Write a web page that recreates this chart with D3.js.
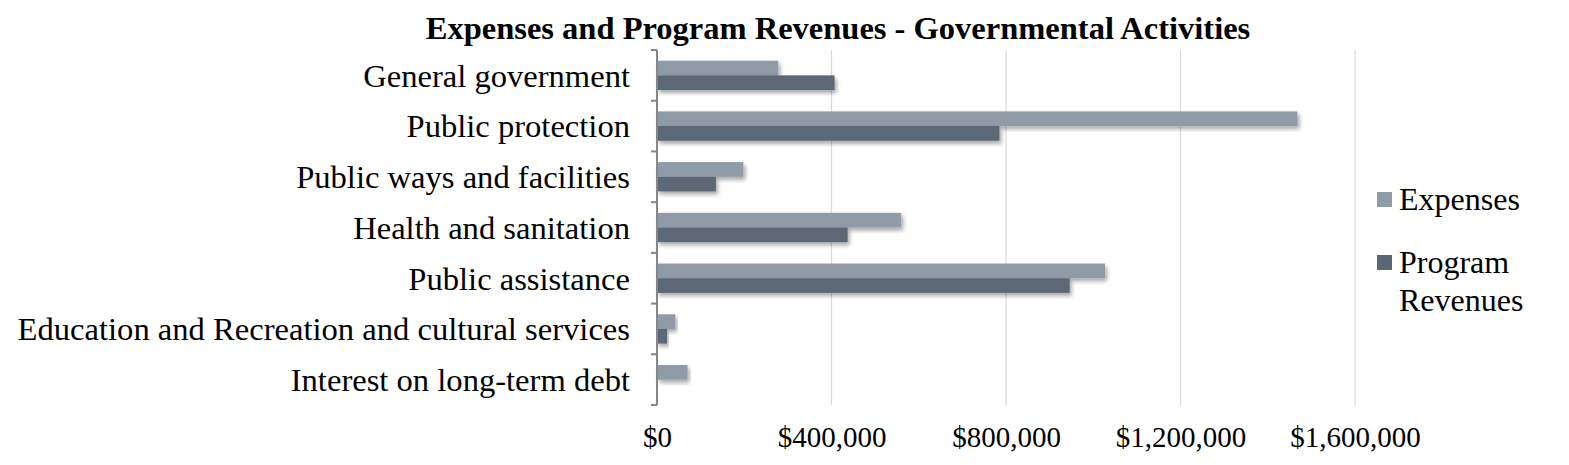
<!DOCTYPE html>
<html>
<head>
<meta charset="utf-8">
<script src="https://cdn.jsdelivr.net/npm/d3@7"></script>
<style>
  body { margin: 0; background: #fff; }
  text { font-family: "Liberation Serif", "Times New Roman", serif; }
</style>
</head>
<body>
<div id="chart"></div>
<script>
const categories = [
    "General government",
    "Public protection",
    "Public ways and facilities",
    "Health and sanitation",
    "Public assistance",
    "Education and Recreation and cultural services",
    "Interest on long-term debt"
];
const seriesNames = ["Expenses", "Program Revenues"];
const expenses = [278000, 1468000, 198000, 560000, 1027000, 42000, 70000];
const programRevenues = [407000, 785000, 135000, 437000, 946000, 23000, 0];
const xTicks = [0, 400000, 800000, 1200000, 1600000];
const colors = ["#8f9ba6", "#5c6775"];

const width = 1569, height = 465;
const margin = {top: 50, right: 214, bottom: 60, left: 657};

const svg = d3.select("#chart")
    .append("svg")
    .attr("width", width)
    .attr("height", height);

// drop shadow like the office chart
const defs = svg.append("defs");
const f = defs.append("filter").attr("id", "shadow")
    .attr("x", "-5%").attr("y", "-20%").attr("width", "115%").attr("height", "160%");
f.append("feDropShadow")
    .attr("dx", 2).attr("dy", 3).attr("stdDeviation", 2)
    .attr("flood-color", "#000").attr("flood-opacity", 0.35);

const x = d3.scaleLinear()
    .domain([0, 1600000])
    .range([margin.left, width - margin.right]);

const y0 = d3.scaleBand()
    .domain(categories)
    .range([margin.top, height - margin.bottom]);

const y1 = d3.scaleBand()
    .domain(seriesNames)
    .range([0, y0.bandwidth()])
    .paddingOuter(0.73);

// gridlines
svg.append("g")
    .selectAll("line")
    .data(xTicks.slice(1))
    .enter().append("line")
    .attr("x1", d => x(d)).attr("x2", d => x(d))
    .attr("y1", margin.top).attr("y2", height - margin.bottom)
    .attr("stroke", "#d9d9d9")
    .attr("stroke-width", 1.2);

// x tick labels
const xAxis = svg.append("g")
    .attr("transform", `translate(0,${height - margin.bottom})`)
    .call(d3.axisBottom(x).tickValues(xTicks).tickFormat(d3.format("$,")).tickSize(0).tickPadding(21));
xAxis.select(".domain").remove();
xAxis.selectAll("text")
    .attr("font-family", "Liberation Serif, serif")
    .attr("font-size", 29)
    .attr("fill", "#000");

// bars
const rows = categories.map((c, i) => ({cat: c, values: [expenses[i], programRevenues[i]]}));

const groups = svg.append("g")
    .selectAll("g")
    .data(rows)
    .enter().append("g")
    .attr("transform", d => `translate(0,${y0(d.cat)})`);

groups.selectAll("rect")
    .data(d => d.values.map((v, j) => ({name: seriesNames[j], value: v, j: j})).filter(e => e.value > 0))
    .enter().append("rect")
    .attr("x", x(0))
    .attr("y", d => y1(d.name))
    .attr("width", d => x(d.value) - x(0))
    .attr("height", y1.bandwidth())
    .attr("fill", d => colors[d.j])
    .attr("filter", "url(#shadow)");

// y axis line with ticks between categories
const yAxis = svg.append("g");
yAxis.append("line")
    .attr("x1", x(0)).attr("x2", x(0))
    .attr("y1", margin.top).attr("y2", height - margin.bottom)
    .attr("stroke", "#868686").attr("stroke-width", 2);
const boundaries = categories.map(c => y0(c)).concat([y0.range()[1]]);
yAxis.selectAll("line.tick")
    .data(boundaries)
    .enter().append("line")
    .attr("class", "tick")
    .attr("x1", x(0) - 6).attr("x2", x(0))
    .attr("y1", d => d).attr("y2", d => d)
    .attr("stroke", "#868686").attr("stroke-width", 2);

// category labels
yAxis.selectAll("text")
    .data(categories)
    .enter().append("text")
    .attr("x", x(0) - 27)
    .attr("y", d => y0(d) + y0.bandwidth() / 2)
    .attr("dy", "0.35em")
    .attr("text-anchor", "end")
    .attr("font-size", 32.6)
    .attr("fill", "#000")
    .text(d => d);

// title
svg.append("text")
    .attr("x", 838)
    .attr("y", 39)
    .attr("text-anchor", "middle")
    .attr("font-size", 32.5)
    .attr("font-weight", "bold")
    .text("Expenses and Program Revenues - Governmental Activities");

// legend
const legend = svg.append("g").attr("transform", "translate(1377,0)");
const legendItems = [
    {lines: ["Expenses"], y: 199},
    {lines: ["Program", "Revenues"], y: 262}
];
legendItems.forEach((d, i) => {
    legend.append("rect")
        .attr("x", 0).attr("y", d.y - 7)
        .attr("width", 15).attr("height", 15)
        .attr("fill", colors[i]);
    const t = legend.append("text")
        .attr("x", 22).attr("y", d.y)
        .attr("font-size", 32)
        .attr("fill", "#000");
    d.lines.forEach((l, k) => {
        t.append("tspan").attr("x", 22).attr("dy", k === 0 ? "0.35em" : "1.19em").text(l);
    });
});
</script>
</body>
</html>
